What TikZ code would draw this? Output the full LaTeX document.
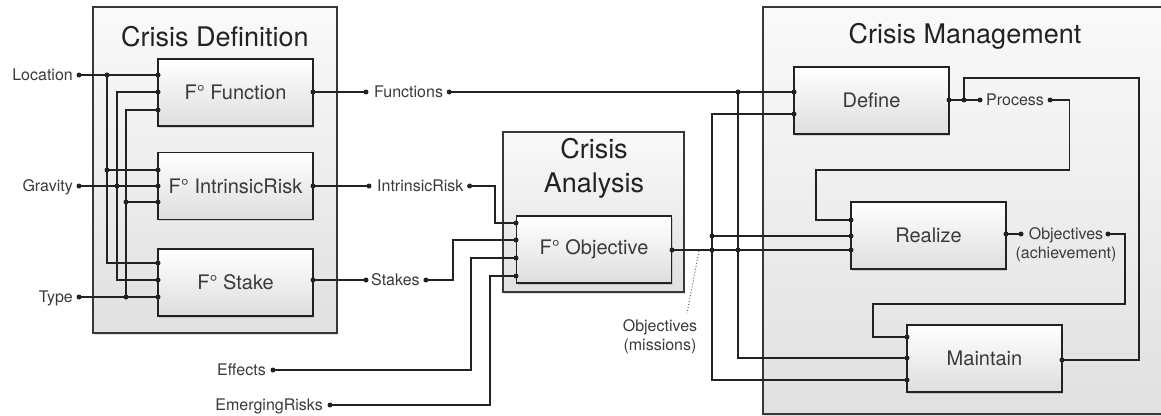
\documentclass[tikz,border=0pt]{standalone}
\usepackage{fontspec}
\setmainfont{TeX Gyre Heros}
\usetikzlibrary{calc,positioning,shadows}
\definecolor{ink}{HTML}{222222}
\definecolor{txt}{HTML}{3A3A3A}
\tikzset{
  wire/.style={draw=ink,line width=1.2pt},
  grp/.style={draw=ink!90,line width=1.2pt,top color=gray!4,bottom color=gray!24,
    drop shadow={shadow xshift=1.2pt,shadow yshift=-1.5pt,opacity=.25}},
  blk/.style={draw=ink,line width=1.2pt,top color=white,bottom color=gray!26,
    minimum width=155pt,minimum height=67pt,inner sep=0pt,text=txt,
    font=\fontsize{20}{24}\selectfont,
    drop shadow={shadow xshift=1.2pt,shadow yshift=-1.5pt,opacity=.3}},
  ttl/.style={font=\fontsize{27}{34}\selectfont,text=ink,align=center,inner sep=0pt},
  lbl/.style={font=\fontsize{16}{19}\selectfont,text=txt,inner sep=0pt,text depth=0pt}
}
\newcommand*{\pin}[1]{\fill[ink] (#1) circle (2.5pt)}

\begin{document}
\begin{tikzpicture}[x=1pt,y=-1pt]
\clip (0,0) rectangle (1161,415);
% Pixel grid, y downwards

% Group frames
\path[grp] (93,7) rectangle (337,333);
\path[grp] (503,132) rectangle (684,292);
\path[grp] (763,7) rectangle (1175,414);
\node[ttl] (cdT) at (215,37) {Crisis Definition};
\node[ttl] (caT) at (594,168) {Crisis\\Analysis};
\node[ttl] (cmT) at (965,36) {Crisis Management};

% Function blocks
\node[blk] (fun) at (235.5,92.5) {F° Function};
\node[blk] (risk) at (235.5,186) {F° IntrinsicRisk};
\node[blk] (stake) at (235.5,282.5) {F° Stake};
\node[blk] (obj) at (594,249.5) {F° Objective};
\node[blk] (def) at (871.5,100.5) {Define};
\node[blk] (real) at (928.5,235.5) {Realize};
\node[blk] (maint) at (984.5,358.5) {Maintain};

% Ports
\coordinate (fun-i1) at (158,75);
\coordinate (fun-i2) at (158,92);
\coordinate (fun-i3) at (158,110);
\coordinate (fun-o) at (313,92);
\coordinate (risk-i1) at (158,170);
\coordinate (risk-i2) at (158,186);
\coordinate (risk-i3) at (158,202);
\coordinate (risk-o) at (313,186);
\coordinate (stake-i1) at (158,263);
\coordinate (stake-i2) at (158,280);
\coordinate (stake-i3) at (158,297);
\coordinate (stake-o) at (313,280);
\coordinate (obj-i1) at (516,223);
\coordinate (obj-i2) at (516,240);
\coordinate (obj-i3) at (516,258);
\coordinate (obj-i4) at (516,276);
\coordinate (obj-o) at (672,250);
\coordinate (def-i1) at (794,92);
\coordinate (def-i2) at (794,114);
\coordinate (def-o) at (949,100);
\coordinate (real-i1) at (851,220);
\coordinate (real-i2) at (851,236);
\coordinate (real-i3) at (851,250);
\coordinate (real-o) at (1006,234);
\coordinate (maint-i1) at (907,337);
\coordinate (maint-i2) at (907,358);
\coordinate (maint-i3) at (907,380);
\coordinate (maint-o) at (1062,360);

% Inputs of Crisis Definition
\coordinate (loc) at (79,75);
\coordinate (grav) at (79,186);
\coordinate (typ) at (79,297);
\node[lbl,left=6pt of loc] (locT) {Location};
\node[lbl,left=6pt of grav] (gravT) {Gravity};
\node[lbl,left=6pt of typ] (typT) {Type};
\coordinate (ja) at (107,75);
\coordinate (jb) at (107,170);
\coordinate (jc) at (117,186);
\coordinate (jd) at (126,202);
\coordinate (je) at (126,297);

\draw[wire] (loc) -- (fun-i1);
\draw[wire] (ja) -- (jb) |- (stake-i1);
\draw[wire] (jb) -- (risk-i1);
\draw[wire] (fun-i2) -| (jc) |- (stake-i2);
\draw[wire] (grav) -- (risk-i2);
\draw[wire] (fun-i3) -| (jd) -- (je);
\draw[wire] (jd) -- (risk-i3);
\draw[wire] (typ) -- (stake-i3);

% Outputs of Crisis Definition
\coordinate (fnL) at (366,92);
\coordinate (irL) at (369,186);
\coordinate (stL) at (366,280);
\node[lbl,right=8pt of fnL] (fnT) {Functions};
\node[lbl,right=8pt of irL] (irT) {IntrinsicRisk};
\node[lbl,right=5pt of stL] (stT) {Stakes};
\coordinate (fnR) at ($(fnT.east)+(6,0)$);
\coordinate (irR) at ($(irT.east)+(6,0)$);
\coordinate (stR) at ($(stT.east)+(6,0)$);
\draw[wire] (fun-o) -- (fnL);
\draw[wire] (risk-o) -- (irL);
\draw[wire] (stake-o) -- (stL);

% Inputs of Crisis Analysis
\coordinate (eff) at (273,370);
\coordinate (emr) at (330,405);
\node[lbl,left=7pt of eff] (effT) {Effects};
\node[lbl,left=7pt of emr] (emrT) {EmergingRisks};
\draw[wire] (irR) -| ($(obj-i1)+(-21,0)$) -- (obj-i1);
\draw[wire] (stR) -| ($(obj-i2)+(-63,0)$) -- (obj-i2);
\draw[wire] (eff) -| ($(obj-i3)+(-45,0)$) -- (obj-i3);
\draw[wire] (emr) -| ($(obj-i4)+(-26,0)$) -- (obj-i4);

% Into Crisis Management
\coordinate (ma) at (712,250);
\coordinate (mb) at (712,236);
\coordinate (mc) at (738,92);
\coordinate (md) at (738,250);
\draw[wire] (fnR) -- (def-i1);
\draw[wire] (mc) |- (maint-i2);
\draw[wire] (def-i2) -| (ma) |- (maint-i3);
\draw[wire] (mb) -- (real-i2);
\draw[wire] (obj-o) -- (real-i3);

\node[lbl,align=center] (msnT) at (660,335) {Objectives\\(missions)};
\coordinate (msnW) at (699,251);
\draw[ink!70,dotted,line width=1pt] (msnW) -- ($(msnT.north)+(27,-6)$);

% Loops inside Crisis Management
\coordinate (dj) at (964,100);
\coordinate (pL) at (980,100);
\node[lbl,right=6pt of pL] (pT) {Process};
\coordinate (pR) at ($(pT.east)+(6,0)$);
\draw[wire] (def-o) -- (pL);
\draw[wire] (pR) -| ++(19,70) -| ($(real-i1)+(-35,0)$) -- (real-i1);
\draw[wire] (maint-o) -| ++(77,-282) -| (dj);

\coordinate (oL) at (1021,234);
\coordinate (oR) at (1108,234);
\node[lbl,align=center] (achT) at (1066,243.5) {Objectives\\(achievement)};
\draw[wire] (real-o) -- (oL);
\draw[wire] (oR) -| ++(17,70) -| ($(maint-i1)+(-34,0)$) -- (maint-i1);

% Dots
\pin{loc}; \pin{grav}; \pin{typ};
\pin{ja}; \pin{jb}; \pin{jc}; \pin{jd}; \pin{je};
\pin{fun-i1}; \pin{fun-i2}; \pin{fun-i3}; \pin{fun-o};
\pin{risk-i1}; \pin{risk-i2}; \pin{risk-i3}; \pin{risk-o};
\pin{stake-i1}; \pin{stake-i2}; \pin{stake-i3}; \pin{stake-o};
\pin{fnL}; \pin{fnR}; \pin{irL}; \pin{irR}; \pin{stL}; \pin{stR};
\pin{eff}; \pin{emr};
\pin{obj-i1}; \pin{obj-i2}; \pin{obj-i3}; \pin{obj-i4}; \pin{obj-o};
\pin{ma}; \pin{mb}; \pin{mc}; \pin{md};
\pin{def-i1}; \pin{def-i2}; \pin{def-o};
\pin{real-i1}; \pin{real-i2}; \pin{real-i3}; \pin{real-o};
\pin{maint-i1}; \pin{maint-i2}; \pin{maint-i3}; \pin{maint-o};
\pin{dj}; \pin{pL}; \pin{pR}; \pin{oL}; \pin{oR};
\end{tikzpicture}
\end{document}
